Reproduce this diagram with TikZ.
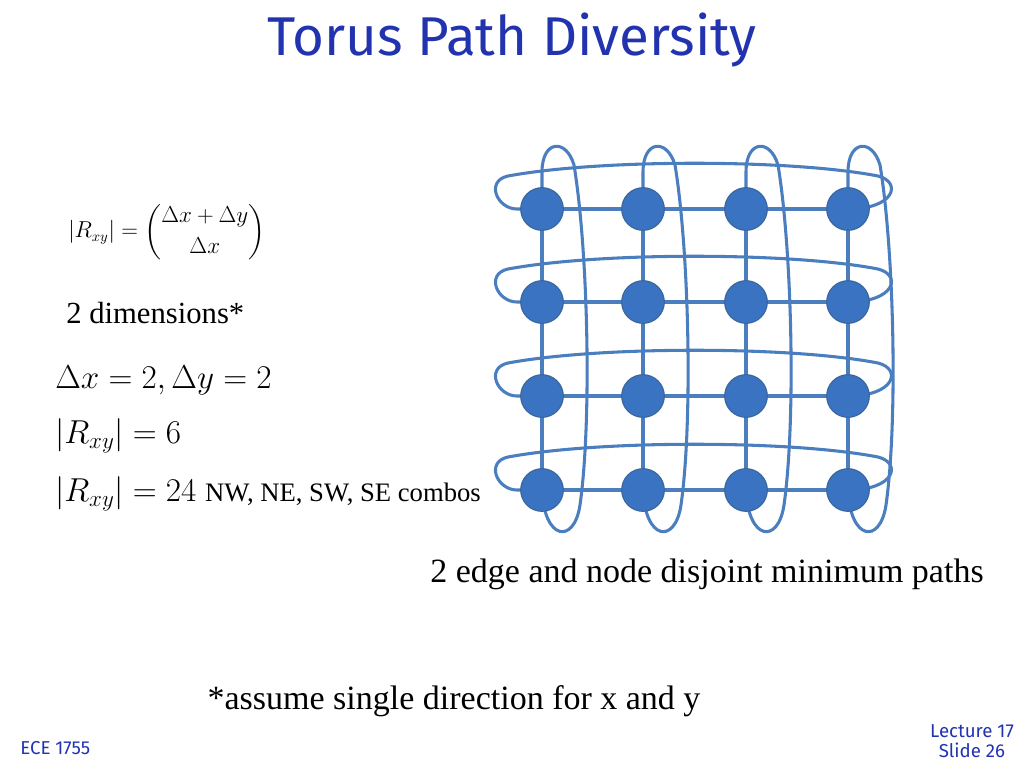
\documentclass[tikz,border=0pt]{standalone}
\usepackage{fontspec}
\usepackage{amsmath}
\setmainfont{Liberation Serif}
\newfontfamily\titlefont{Fira Sans}
\usetikzlibrary{positioning}
\definecolor{netblue}{HTML}{4A7EBF}
\definecolor{nodeblue}{HTML}{3A73C2}
\definecolor{titleblue}{HTML}{2233B0}
\tikzset{
  torusnode/.style={circle, fill=nodeblue, draw=netblue!80!black, line width=0.8pt, minimum size=32pt, inner sep=0pt},
  link/.style={draw=netblue, line width=2.3pt},
  txt/.style={anchor=west, inner sep=0pt},
  footer/.style={font=\titlefont\fontsize{14}{15}\selectfont, text=titleblue}
}
\begin{document}
\begin{tikzpicture}[x=0.75pt, y=-0.75pt]
\useasboundingbox (0,0) rectangle (1024,768);

% Title
\node (title) at (512,40) {\titlefont\color{titleblue}\fontsize{41}{45}\selectfont Torus Path Diversity};

% Nodes
\foreach \c/\x in {1/542,2/643,3/746,4/848}
  \foreach \r/\y in {1/209,2/302,3/396,4/490}
    \coordinate (p\c\r) at (\x,\y);

% Wrap links, rows
\foreach \r/\y in {1/209,2/302,3/396,4/490}
  \draw[link] (p1\r) -- ++(-25,0) .. controls ++(-20,0) and (485,\y-28) .. (508,\y-33)
     .. controls (600,\y-50) and (790,\y-50) .. (878,\y-33)
     .. controls (902,\y-27) and (895,\y) .. (p4\r);
% Wrap links, columns
\foreach \c/\x in {1/542,2/643,3/746,4/848}
  \draw[link] (p\c1) -- (\x,172) .. controls (\x,140) and (\x+24,138) .. (\x+32,165)
     .. controls (\x+46,250) and (\x+50,420) .. (\x+38,505)
     .. controls (\x+32,545) and (\x+2,540) .. (p\c4);

% Mesh links
\foreach \r in {1,2,3,4}
  \draw[link] (p1\r) -- (p2\r) -- (p3\r) -- (p4\r);
\foreach \c in {1,2,3,4}
  \draw[link] (p\c1) -- (p\c2) -- (p\c3) -- (p\c4);

\foreach \c in {1,2,3,4}
  \foreach \r in {1,2,3,4}
    \node[torusnode] (n\c\r) at (p\c\r) {};

% Left text
\node[txt] (formula) at (68,232) {\fontsize{16}{18}\selectfont $\left|R_{xy}\right| = \dbinom{\Delta x+\Delta y}{\Delta x}$};
\node[txt] (dims) at (66,313) {\fontsize{23}{26}\selectfont 2 dimensions*};
\node[txt] (deltas) at (55,380) {\fontsize{26}{30}\selectfont $\Delta x = 2, \Delta y = 2$};
\node[txt] (six) at (55,436) {\fontsize{26}{30}\selectfont $\left|R_{xy}\right| = 6$};
\node[txt] (twentyfour) at (55,494) {\fontsize{26}{30}\selectfont $\left|R_{xy}\right| = 24$};
\node[txt, right=6pt of twentyfour] (combos) {\fontsize{20}{24}\selectfont NW, NE, SW, SE combos};

\node (paths) at (707,574) {\fontsize{25.5}{30}\selectfont 2 edge and node disjoint minimum paths};
\node (assume) at (454,701) {\fontsize{25.5}{30}\selectfont *assume single direction for x and y};

% Footer
\node[txt, footer] (course) at (20,748) {ECE 1755};
\node[footer, align=center] (slide) at (972,741) {Lecture 17\\Slide 26};
\end{tikzpicture}
\end{document}
